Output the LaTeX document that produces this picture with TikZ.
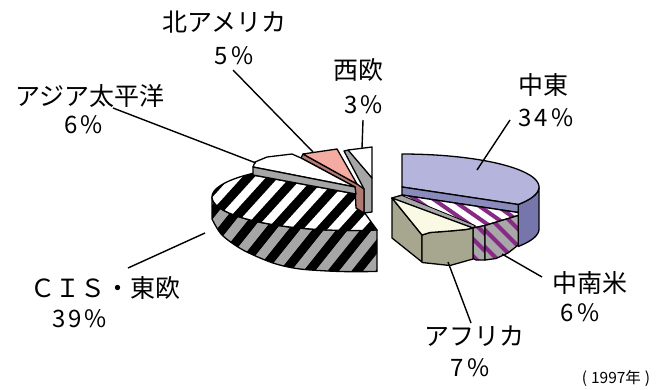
\documentclass[tikz,border=0pt]{standalone}
\usepackage{fontspec}
\setmainfont{Noto Sans CJK JP}
\newfontfamily\pctfont[LetterSpace=12]{Noto Sans CJK JP}
\definecolor{metop}{HTML}{B4B4DC}
\definecolor{meside}{HTML}{7676AC}
\definecolor{mefront}{HTML}{8A8ABC}
\definecolor{csapurple}{HTML}{862A86}
\definecolor{csagray}{HTML}{A8A8A8}
\definecolor{afside}{HTML}{A7A790}
\definecolor{aftop}{HTML}{FAFAE4}
\definecolor{natop}{HTML}{F4ACA2}
\definecolor{naside}{HTML}{B07A72}
\definecolor{slgray}{HTML}{A6A6A6}
\tikzset{
  edge/.style={draw=black,line width=1.3pt,line join=round},
  leader/.style={draw=black,line width=1.4pt},
  namelbl/.style={font=\fontsize{25}{25}\selectfont,inner sep=0pt},
  pctlbl/.style={font=\pctfont\fontsize{24}{24}\selectfont,inner sep=0pt},
}
\begin{document}
\begin{tikzpicture}[x=1pt,y=-1pt]
\useasboundingbox (0,0) rectangle (660,389);

% ---------------- Middle East ----------------
\path[edge,fill=meside] plot[domain=0:32,samples=12,variable=\t] ({402+137*cos(\t)},{187+33*sin(\t)})
  -- plot[domain=32:0,samples=12,variable=\t] ({402+137*cos(\t)},{229+33*sin(\t)}) -- cycle;
\path[edge,fill=metop] (402,187) -- (402,154)
  -- plot[domain=-90:32,samples=40,variable=\t] ({402+137*cos(\t)},{187+33*sin(\t)}) -- cycle;
\path[edge,fill=mefront] (402,187) -- (518.2,204.5) -- (518.2,212.5) -- (402,195) -- cycle;

% ---------------- Central / South America ----------------
\path[edge,fill=white,path picture={\foreach \k in {0,...,14}{\draw[csapurple,line width=4pt] ({316+\k*18},180) -- ++(86,60);}}]
  (402,195) -- (518.2,212.5) -- (518.2,215.5) -- (485,225.5) -- (473,228) -- (392,198) -- cycle;
\path[draw=black,line width=0.8pt,fill=slgray] (392,198) -- (402,195.5) -- (475,225.5) -- (473,228) -- cycle;
\path[edge,fill=csagray,path picture={\foreach \k in {0,...,8}{\draw[csapurple,line width=4pt] ({400+\k*17},200) -- ++(70,70);}}]
  (473,228) -- (485,225.5) -- (485,260) -- (476,260) -- (473,258.5) -- cycle;
\path[edge,fill=csagray,path picture={\foreach \k in {0,...,8}{\draw[csapurple,line width=4pt] ({404+\k*17},200) -- ++(70,70);}}]
  (485,225.5) -- (518.2,215.5) -- (518.2,245) -- (508,253) -- (496,258.5) -- (485,260) -- cycle;

% ---------------- Africa ----------------
\path[edge,fill=afside] (392,198) -- (422,235) -- (422,262) -- (392,238) -- cycle;
\path[edge,fill=afside] (422,235) -- (430,232.5) -- (450,231) -- (466,229.5) -- (473,228)
  -- (473,259) -- (450,265.5) -- (422,262.5) -- cycle;
\path[edge,fill=aftop] (392,198) -- (473,228) -- (466,229.5) -- (450,231) -- (430,232.5) -- (422,235) -- cycle;

% ---------------- CIS / Eastern Europe ----------------
\path[edge,fill=slgray,path picture={\foreach \k in {0,...,18}{\draw[black,line width=9pt] ({150+\k*24},290) -- ++(112,-140);}}]
  (377,230) -- plot[domain=80:180,samples=40,variable=\t] ({352+140*cos(\t)},{197+33.5*sin(\t)})
  -- (212,219) -- plot[smooth] coordinates {(212,219) (222,235) (243,250) (273,263) (300,269) (340,271.5) (377,271.5)} -- cycle;
\path[edge,fill=white,path picture={\foreach \k in {0,...,18}{\draw[black,line width=9pt] ({122+\k*24},290) -- ++(127,-140);}}]
  (253,175) -- (356,194) -- (364,212) -- (377,230)
  -- plot[domain=80:225,samples=50,variable=\t] ({352+140*cos(\t)},{197+33.5*sin(\t)}) -- cycle;

% ---------------- Western Europe ----------------
\path[edge,fill=slgray] (344,151) -- (349,150) -- (372,178) -- (372,212) -- (364,213) -- (364,189) -- cycle;
\path[edge,fill=white] (348,150) -- (372,147) -- (372,178) -- cycle;

% ---------------- North America ----------------
\path[edge,fill=naside] (303,154) -- (357,184) -- (364,189) -- (364,213) -- (356,208) -- (355,187) -- (301,158) -- cycle;
\path[edge,fill=natop] (303,154) -- (337,149) -- (357,184) -- cycle;

% ---------------- Asia Pacific ----------------
\path[edge,fill=white] (253,167) -- (255,162) -- (267,157) -- (292,154) -- (301,158) -- (355,187) -- cycle;
\path[edge,fill=slgray] (253,167) -- (355,187) -- (356,194) -- (253,175) -- cycle;

% ---------------- labels ----------------
\node[namelbl] (naN) at (224.5,22.5) {北アメリカ};
\node[pctlbl]  (naP) at (234,55.5) {5\%};
\node[namelbl] (weN) at (358,70) {西欧};
\node[pctlbl]  (weP) at (363.5,104.5) {3\%};
\node[namelbl] (apN) at (90,96) {アジア太平洋};
\node[pctlbl]  (apP) at (83.5,125) {6\%};
\node[namelbl] (meN) at (543,85) {中東};
\node[pctlbl]  (meP) at (546,118) {34\%};
\node[namelbl] (cisN) at (105,288) {ＣＩＳ・東欧};
\node[pctlbl]  (cisP) at (79.5,319) {39\%};
\node[namelbl] (saN) at (590,282.5) {中南米};
\node[pctlbl]  (saP) at (580,312.5) {6\%};
\node[namelbl] (afN) at (474,336) {アフリカ};
\node[pctlbl]  (afP) at (470,368) {7\%};
\node[font=\fontsize{15.5}{15.5}\selectfont,inner sep=0pt] (yr) at (616,378) {(\hspace{4pt}1997年\hspace{4pt})};

% ---------------- leaders ----------------
\coordinate (meA) at (477,170);  \coordinate (meB) at (510,120);
\coordinate (saA) at (502,254);  \coordinate (saB) at (542,277);
\coordinate (afA) at (448,262);  \coordinate (afB) at (471,323);
\coordinate (cisA) at (205,233); \coordinate (cisB) at (128,268);
\coordinate (apA) at (256,163);  \coordinate (apB) at (113,108);
\coordinate (naA) at (313,152);  \coordinate (naB) at (233,70);
\coordinate (weA) at (362,148);  \coordinate (weB) at (363,120);
\draw[leader] (meA) -- (meB);
\draw[leader] (saA) -- (saB);
\draw[leader] (afA) -- (afB);
\draw[leader] (cisA) -- (cisB);
\draw[leader] (apA) -- (apB);
\draw[leader] (naA) -- (naB);
\draw[leader] (weA) -- (weB);
\end{tikzpicture}
\end{document}
